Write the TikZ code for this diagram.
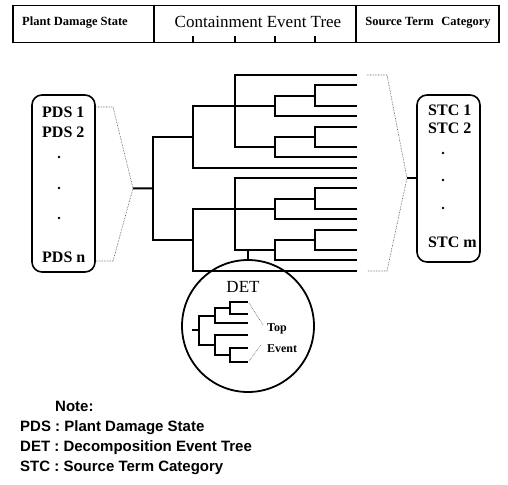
\documentclass[tikz,border=0pt]{standalone}
\usepackage{fontspec}
\setmainfont{Liberation Serif}
\setsansfont{Liberation Sans}
\begin{document}
\begin{tikzpicture}[x=1pt,y=-1pt,
  tree/.style={line width=2pt, line cap=rect, line join=miter},
  dotline/.style={densely dotted, line width=0.6pt, black!75},
  box/.style={draw, line width=1.6pt, rounded corners=10pt, inner sep=0pt},
  lbl/.style={inner sep=0pt, anchor=west, font=\bfseries\fontsize{16}{16}\selectfont},
  hdr/.style={inner sep=0pt},
  note/.style={inner sep=0pt, anchor=west, font=\sffamily\bfseries\fontsize{15}{15}\selectfont},
  dotmark/.style={circle, fill, inner sep=0pt, minimum size=2.6pt},
  frame/.style={line width=1.5pt}]
\useasboundingbox (0,0) rectangle (508,484);

% ---------- header ----------
\node[draw, frame, minimum width=486pt, minimum height=37pt, inner sep=0pt, anchor=north west] (header) at (12,5) {};
\coordinate (div1) at (154,0);
\coordinate (div2) at (356,0);
\draw[frame] (header.north -| div1) -- (header.south -| div1);
\draw[frame] (header.north -| div2) -- (header.south -| div2);
\node[hdr, font=\bfseries\fontsize{12.5}{12.5}\selectfont] (h1) at (75,23) {Plant Damage State};
\node[hdr, font=\fontsize{17}{17}\selectfont] (h2) at (258,22) {Containment Event Tree};
\node[hdr, font=\bfseries\fontsize{12.5}{12.5}\selectfont] (h3) at (428,23) {Source Term\hspace{0.6em}Category};

% ---------- tree coordinates ----------
\foreach \h/\o in {a/0,b/10}{
  \foreach \k in {0,...,9}{
    \foreach \x in {153,193,235,275,315,356}{
      \coordinate (\h\k x\x) at (\x,{75+10.3*(\k+\o)});
    }
  }
}
% ticks in header at the tree levels
\foreach \x in {193,235,275,315}{
  \draw[frame] (a0x\x |- header.south) -- ++(0,-7);
}

% ---------- containment event tree ----------
\foreach \h in {a,b}{
  \draw[tree] (\h6x153) -- (\h6x193);
  \draw[tree] (\h3x275) -- (\h3x193) -- (\h9x193) -- (\h9x356);
  \draw[tree] (\h0x356) -- (\h0x235) -- (\h7x235) -- (\h7x275);
  \draw[tree] (\h2x315) -- (\h2x275) -- (\h4x275) -- (\h4x356);
  \draw[tree] (\h1x356) -- (\h1x315) -- (\h3x315) -- (\h3x356);
  \draw[tree] (\h6x315) -- (\h6x275) -- (\h8x275) -- (\h8x356);
  \draw[tree] (\h5x356) -- (\h5x315) -- (\h7x315) -- (\h7x356);
}
\draw[tree] (a6x153) -- (b6x153);

% ---------- PDS box ----------
\node[box, minimum width=63pt, minimum height=177pt] (pds) at (63.5,183.5) {};
\node[lbl] (p1) at (42,112) {PDS 1};
\node[lbl] (p2) at (42,132) {PDS 2};
\node[dotmark] (pd1) at (59,157) {};
\node[dotmark] (pd2) at (59,188) {};
\node[dotmark] (pd3) at (59,218) {};
\node[lbl] (pn) at (42,257) {PDS n};
\coordinate (pdstop) at (95,107);
\coordinate (pdsbot) at (95,261);
\coordinate (pdstip) at (133,188.3);
\draw[dotline] (pdstop) -- ++(18,0) -- (pdstip) -- (113,261) -- (pdsbot);
\draw[tree, line cap=butt] (pdstip) -- (b1x153);

% ---------- STC box ----------
\node[box, minimum width=63pt, minimum height=167pt] (stc) at (448.5,178.5) {};
\node[lbl] (s1) at (428,110) {STC 1};
\node[lbl] (s2) at (428,128) {STC 2};
\node[dotmark] (sd1) at (443,153) {};
\node[dotmark] (sd2) at (443,180) {};
\node[dotmark] (sd3) at (443,208) {};
\node[lbl] (sm) at (428,242) {STC m};
\coordinate (stctop) at (367,75);
\coordinate (stcbot) at (367,271);
\coordinate (stctip) at (407,178);
\draw[dotline] (stctop) -- ++(20,0) -- (stctip) -- (387,271) -- (stcbot);
\draw[tree, line cap=butt] (stctip) -- (stc.west |- stctip);

% ---------- DET circle ----------
\node[circle, draw, line width=1.8pt, minimum size=132pt, inner sep=0pt] (det) at (248,326) {};
\draw[tree, line cap=butt] (det.north |- b7x275) -- (det.north);
\node[hdr, font=\fontsize{17}{17}\selectfont] (dett) at (243,287) {DET};
% small decomposition tree
\coordinate (m0) at (193,330);
\draw[tree] (m0) -- (199,330);
\draw[tree] (215,316) -- (199,316) -- (199,345) -- (215,345);
\draw[tree] (230,308) -- (215,308) -- (215,323) -- (247,323);
\draw[tree] (247,302) -- (230,302) -- (230,314) -- (247,314);
\draw[tree] (247,335) -- (215,335) -- (215,355) -- (230,355);
\draw[tree] (247,348) -- (230,348) -- (230,362) -- (247,362);
\node[hdr, font=\bfseries\fontsize{12}{12}\selectfont] (top) at (277,329) {Top};
\node[hdr, font=\bfseries\fontsize{12}{12}\selectfont] (evt) at (282,349) {Event};
\draw[dotline] (249,303) -- (263,325);
\draw[dotline] (249,361) -- (261,345);

% ---------- note ----------
\node[note] (n0) at (55,406) {Note:};
\node[note] (n1) at (20,428) {PDS : Plant Damage State};
\node[note] (n2) at (20,448) {DET : Decomposition Event Tree};
\node[note] (n3) at (20,468) {STC : Source Term Category};
\end{tikzpicture}
\end{document}
